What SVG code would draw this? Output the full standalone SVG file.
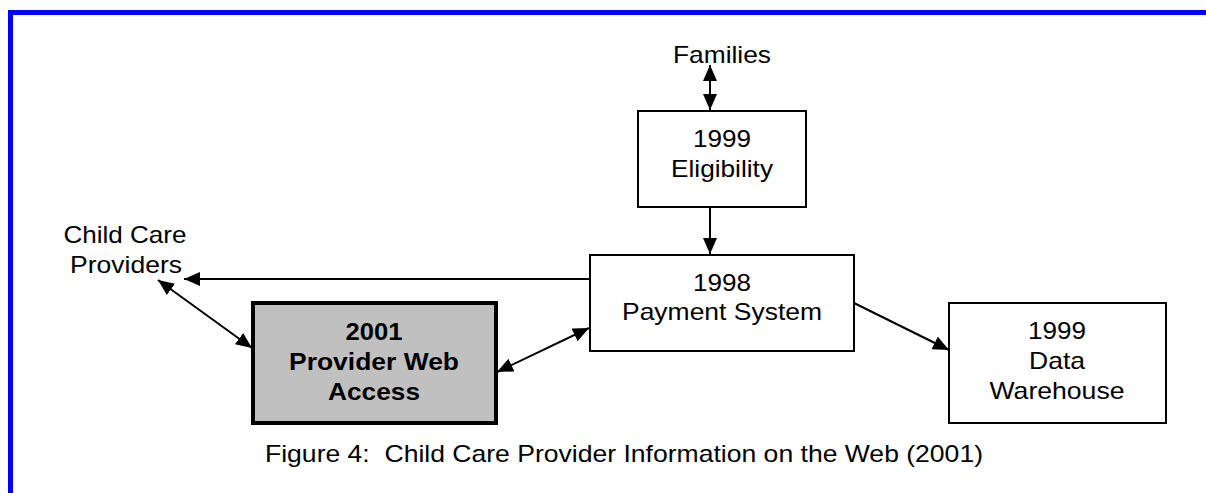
<svg xmlns="http://www.w3.org/2000/svg" width="1206" height="493" viewBox="0 0 1206 493">
  <style>
    .lbl { font-family: "Liberation Sans", Arial, sans-serif; font-size: 24px; fill: #000; text-anchor: middle; }
    .bold { font-weight: bold; }
    .box { fill: #fff; stroke: #000; stroke-width: 2; }
    .hl { fill: #c0c0c0; stroke: #000; stroke-width: 4; }
    .conn { fill: none; stroke: #000; stroke-width: 2; }
  </style>
  <defs>
    <marker id="arrow" viewBox="0 0 16 14" refX="16" refY="7" markerWidth="16" markerHeight="14" markerUnits="userSpaceOnUse" orient="auto-start-reverse">
      <path d="M0,0 L16,7 L0,14 Z" fill="#000"/>
    </marker>
  </defs>

  <rect x="0" y="0" width="1206" height="493" fill="#fff"/>

  <!-- page frame -->
  <g id="frame" fill="#0000ff">
    <rect x="8" y="10" width="1198" height="5"/>
    <rect x="8" y="10" width="5" height="483"/>
  </g>

  <!-- connectors -->
  <g id="connectors">
    <line class="conn" x1="710" y1="65" x2="710" y2="110" marker-start="url(#arrow)" marker-end="url(#arrow)"/>
    <line class="conn" x1="710" y1="207" x2="710" y2="254" marker-end="url(#arrow)"/>
    <line class="conn" x1="590" y1="279" x2="184" y2="279" stroke-width="1.6" marker-end="url(#arrow)"/>
    <line class="conn" x1="158" y1="280" x2="252" y2="348" marker-start="url(#arrow)" marker-end="url(#arrow)"/>
    <line class="conn" x1="497" y1="372" x2="589" y2="328" marker-start="url(#arrow)" marker-end="url(#arrow)"/>
    <line class="conn" x1="854" y1="303" x2="949" y2="350" marker-end="url(#arrow)"/>
  </g>

  <g id="families">
    <text class="lbl" x="722" y="63" textLength="98" lengthAdjust="spacingAndGlyphs">Families</text>
  </g>

  <g id="providers">
    <text class="lbl" x="125" y="243" textLength="123" lengthAdjust="spacingAndGlyphs">Child Care</text>
    <text class="lbl" x="126" y="273" textLength="112" lengthAdjust="spacingAndGlyphs">Providers</text>
  </g>

  <g id="eligibility">
    <rect class="box" x="638" y="111" width="168" height="96"/>
    <text class="lbl" x="722" y="147" textLength="58" lengthAdjust="spacingAndGlyphs">1999</text>
    <text class="lbl" x="722" y="177" textLength="102" lengthAdjust="spacingAndGlyphs">Eligibility</text>
  </g>

  <g id="payment">
    <rect class="box" x="590" y="255" width="264" height="96"/>
    <text class="lbl" x="722" y="291" textLength="58" lengthAdjust="spacingAndGlyphs">1998</text>
    <text class="lbl" x="722" y="320" textLength="200" lengthAdjust="spacingAndGlyphs">Payment System</text>
  </g>

  <g id="webaccess">
    <rect class="hl" x="253" y="303" width="243" height="120"/>
    <text class="lbl bold" x="374" y="340" textLength="57" lengthAdjust="spacingAndGlyphs">2001</text>
    <text class="lbl bold" x="374" y="370" textLength="170" lengthAdjust="spacingAndGlyphs">Provider Web</text>
    <text class="lbl bold" x="374" y="400" textLength="92" lengthAdjust="spacingAndGlyphs">Access</text>
  </g>

  <g id="warehouse">
    <rect class="box" x="949" y="303" width="217" height="120"/>
    <text class="lbl" x="1057" y="339" textLength="58" lengthAdjust="spacingAndGlyphs">1999</text>
    <text class="lbl" x="1057" y="369" textLength="56" lengthAdjust="spacingAndGlyphs">Data</text>
    <text class="lbl" x="1057" y="399" textLength="135" lengthAdjust="spacingAndGlyphs">Warehouse</text>
  </g>

  <g id="caption">
    <text class="lbl" x="624" y="462" textLength="718" lengthAdjust="spacingAndGlyphs" xml:space="preserve">Figure 4:  Child Care Provider Information on the Web (2001)</text>
  </g>
</svg>
